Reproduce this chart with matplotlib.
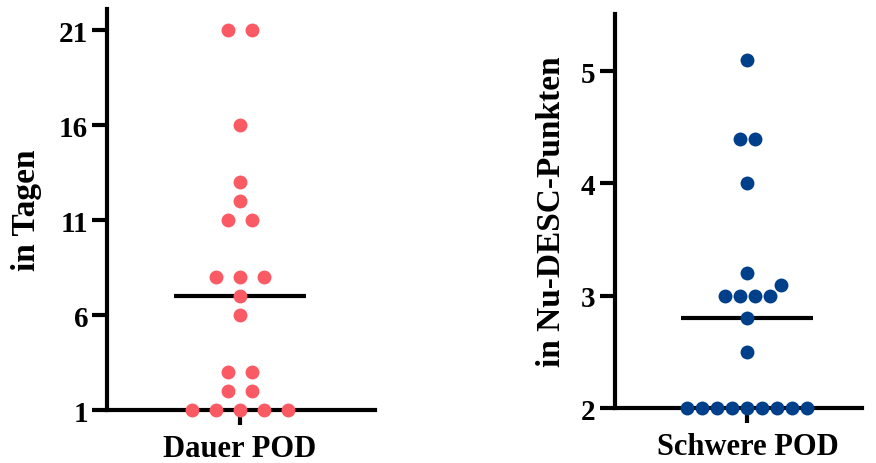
import numpy as np
import matplotlib
matplotlib.use("Agg")
import matplotlib.pyplot as plt

plt.rcParams['font.family'] = ['Liberation Serif', 'DejaVu Serif']
plt.rcParams['font.weight'] = 'bold'

# data
dauer_tage = [21, 21, 16, 13, 12, 11, 11, 8, 8, 8, 7, 6, 3, 3, 2, 2, 1, 1, 1, 1, 1]
schwere_nudesc = [5.1, 4.4, 4.4, 4.0, 3.2, 3.1, 3.0, 3.0, 3.0, 3.0, 2.8, 2.5,
                  2.0, 2.0, 2.0, 2.0, 2.0, 2.0, 2.0, 2.0, 2.0]

group_labels = ["Dauer POD", "Schwere POD"]
y_labels = ["in Tagen", "in Nu-DESC-Punkten"]
y_ticks_left = [1, 6, 11, 16, 21]
y_ticks_right = [2, 3, 4, 5]

RED = "#FA5A64"
BLUE = "#003F8A"


def swarm_offsets(ax, values, spacing, min_dist):
    """Simple beeswarm in pixel space: equal values are centred in a row,
    then shifted sideways until nothing overlaps already placed points."""
    vals = np.asarray(values, dtype=float)
    ypix = ax.transData.transform(np.column_stack([np.zeros_like(vals), vals]))[:, 1]
    placed = []  # (xpix_offset, ypix)
    offsets = np.zeros_like(vals)
    for v in np.unique(vals):
        idx = np.where(vals == v)[0]
        n = len(idx)
        base = (np.arange(n) - (n - 1) / 2) * spacing
        yp = ypix[idx[0]]
        shifts = [0.0]
        for k in range(1, 40):
            shifts += [k * spacing / 4, -k * spacing / 4]
        for s in shifts:
            xs = base + s
            ok = all(np.hypot(x - px, yp - py) >= min_dist - 0.01
                     for x in xs for px, py in placed)
            if ok:
                break
        for i, x in zip(idx, xs):
            offsets[i] = x
            placed.append((x, yp))
    return offsets


def draw_panel(ax, values, color, ylim, yticks, xlab, ylab, xlim, spacing, min_dist, labelpad):
    ax.set_xlim(*xlim)
    ax.set_ylim(*ylim)
    fig.canvas.draw()
    off_px = swarm_offsets(ax, values, spacing, min_dist)
    # pixel offsets -> data x
    px_per_x = ax.bbox.width / (xlim[1] - xlim[0])
    x = off_px / px_per_x
    ax.plot(x, values, 'o', color=color, markersize=10, markeredgewidth=0,
            clip_on=False, zorder=3)
    med = np.median(values)
    ax.plot([-66, 66], [med, med], color='black', lw=3, solid_capstyle='butt', zorder=2)

    ax.spines['top'].set_visible(False)
    ax.spines['right'].set_visible(False)
    for sp in ('left', 'bottom'):
        ax.spines[sp].set_linewidth(3)
    ax.set_yticks(yticks)
    ax.set_xticks([0])
    ax.set_xticklabels([xlab])
    ax.tick_params(axis='both', width=3, length=11, pad=3)
    ax.tick_params(axis='y', labelsize=21)
    ax.tick_params(axis='x', labelsize=22, pad=6)
    ax.set_ylabel(ylab, fontsize=24, fontweight='bold', labelpad=labelpad)
    for lab in ax.get_xticklabels() + ax.get_yticklabels():
        lab.set_fontweight('bold')


fig = plt.figure(figsize=(8.76, 4.64), dpi=100)
ax1 = fig.add_axes([0.1227, 0.1142, 0.3055, 0.864])
ax2 = fig.add_axes([0.7020, 0.1185, 0.2820, 0.8492])

draw_panel(ax1, dauer_tage, RED, (1, 22.1), y_ticks_left, group_labels[0], y_labels[0],
           (-132.5, 135), spacing=24, min_dist=15, labelpad=12)
draw_panel(ax2, schwere_nudesc, BLUE, (2, 5.51), y_ticks_right, group_labels[1], y_labels[1],
           (-132.5, 114.5), spacing=15, min_dist=15, labelpad=10)

fig.savefig("out.png", dpi=100)
